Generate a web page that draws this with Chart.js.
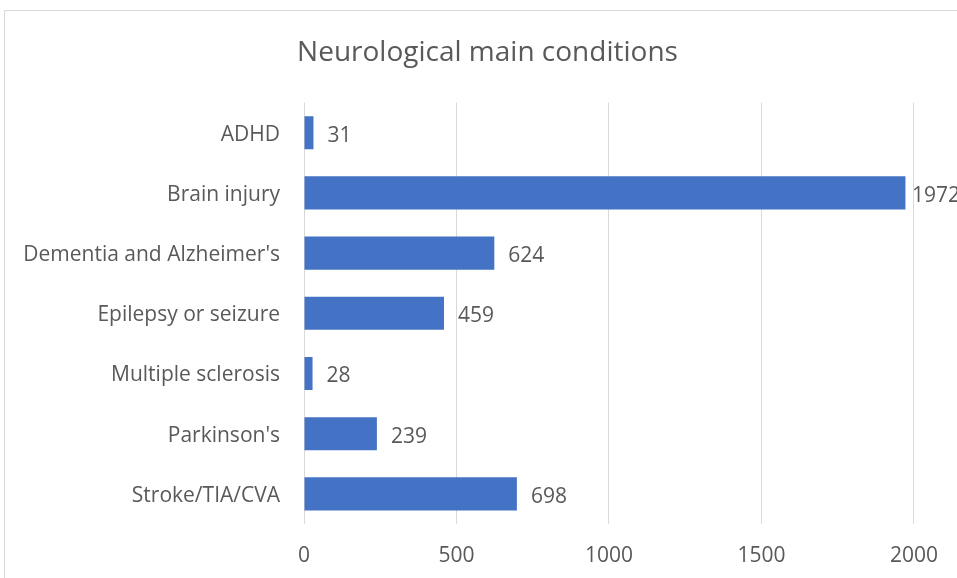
<!DOCTYPE html>
<html>
<head>
<meta charset="utf-8">
<script src="https://cdn.jsdelivr.net/npm/chart.js@4/dist/chart.umd.min.js"></script>
<style>
    body { margin: 0; background: #fff; overflow: hidden; }
    #frame { position: absolute; left: 4px; top: 10px; width: 1000px; height: 700px; border: 1px solid #d9d9d9; }
    #wrap { position: absolute; left: 0; top: 0; width: 957px; height: 578px; overflow: hidden; }
</style>
</head>
<body>
<div id="frame"></div>
<div id="wrap"><canvas id="chart" width="957" height="578"></canvas></div>
<script>
// Chart data
const categories = ['ADHD', 'Brain injury', "Dementia and Alzheimer's", 'Epilepsy or seizure', 'Multiple sclerosis', "Parkinson's", 'Stroke/TIA/CVA'];
const counts = [31, 1972, 624, 459, 28, 239, 698];
const xTicks = [0, 500, 1000, 1500, 2000];

const textColor = '#595959';
const fontFamily = '"Open Sans", sans-serif';

// value labels at the end of each bar (kept inside the chart's right edge)
const barLabels = {
    id: 'barLabels',
    afterDatasetsDraw(chart) {
        const ctx = chart.ctx;
        const meta = chart.getDatasetMeta(0);
        ctx.save();
        ctx.font = '21px ' + fontFamily;
        ctx.fillStyle = textColor;
        ctx.textAlign = 'left';
        ctx.textBaseline = 'middle';
        meta.data.forEach((bar, i) => {
            const txt = String(counts[i]);
            const x = Math.min(bar.x + 14, 960 - ctx.measureText(txt).width);
            ctx.fillText(txt, x, bar.y + 3);
        });
        ctx.restore();
    }
};

new Chart(document.getElementById('chart'), {
    type: 'bar',
    data: {
        labels: categories,
        datasets: [{
            data: counts,
            backgroundColor: '#4472c4',
            borderWidth: 0,
            barPercentage: 0.55,
            categoryPercentage: 1,
        }]
    },
    options: {
        indexAxis: 'y',
        responsive: false,
        animation: false,
        // left padding moves the title centre to match the original
        layout: { padding: { left: 58, right: 40, top: 0, bottom: 0 } },
        plugins: {
            legend: { display: false },
            tooltip: { enabled: false },
            title: {
                display: true,
                text: 'Neurological main conditions',
                color: textColor,
                font: { family: fontFamily, size: 28, weight: 'normal' },
                padding: { top: 36, bottom: 33 },
            },
        },
        scales: {
            x: {
                min: 0,
                max: 2000,
                afterBuildTicks: (axis) => { axis.ticks = xTicks.map(v => ({ value: v })); },
                afterFit: (axis) => { axis.height = 54; },
                grid: { color: '#d9d9d9', drawTicks: false },
                border: { display: false },
                ticks: {
                    color: textColor,
                    font: { family: fontFamily, size: 21 },
                    padding: 19,
                    callback: (v) => String(v),
                },
            },
            y: {
                afterFit: (axis) => {
                    axis.width = 246;
                    // long category names run left past the axis box, don't clip them
                    axis._computeLabelArea = () => undefined;
                },
                grid: { display: false, drawTicks: false },
                border: { display: false },
                ticks: { color: textColor, font: { family: fontFamily, size: 21 }, padding: 24, labelOffset: 2 },
            },
        },
    },
    plugins: [barLabels],
});
</script>
</body>
</html>
